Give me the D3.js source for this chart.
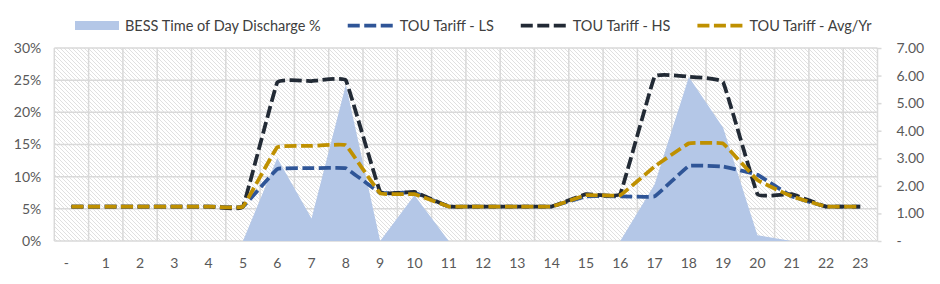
<!DOCTYPE html>
<html>
<meta charset="utf-8">
<head>
    <script src="https://d3js.org/d3.v7.min.js"></script>
</head>

<style>
  body { margin: 0; background: #fff; }
  svg text {
  font-family: Lato, "Open Sans", sans-serif;
  font-size: 14px;
  fill: #595959;
  }
  svg .grid line {
  stroke: #d9d9d9;
  stroke-width: 1.5;
  }
  svg .axis path { display: none; }
  svg .axis line { stroke: #d9d9d9; stroke-width: 1.5; }
  svg .legend text { fill: #404040; font-size: 14.5px; }
</style>

<body>
    <script>

        // hour of day categories and tick labels
        var hours = d3.range(0, 24);
        var hourLabels = ["-", "1", "2", "3", "4", "5", "6", "7", "8", "9", "10", "11",
                          "12", "13", "14", "15", "16", "17", "18", "19", "20", "21", "22", "23"];

        // BESS discharge share (left axis, %)
        var bess = [0, 0, 0, 0, 0, 0, 0.129, 0.035, 0.243, 0, 0.071, 0,
                    0, 0, 0, 0, 0, 0.088, 0.255, 0.176, 0.009, 0, 0, 0];

        // TOU tariffs (right axis)
        var tariffLS = [1.25, 1.25, 1.25, 1.25, 1.25, 1.25, 2.61, 2.64, 2.64, 1.75, 1.75, 1.25,
                        1.25, 1.25, 1.25, 1.62, 1.62, 1.62, 2.72, 2.70, 2.40, 1.62, 1.25, 1.25];
        var tariffHS = [1.25, 1.25, 1.25, 1.25, 1.25, 1.25, 5.75, 5.80, 5.83, 1.79, 1.78, 1.25,
                        1.25, 1.25, 1.25, 1.70, 1.71, 5.96, 5.96, 5.76, 1.70, 1.70, 1.25, 1.25];
        var tariffAvg = [1.25, 1.25, 1.25, 1.25, 1.25, 1.25, 3.40, 3.45, 3.47, 1.73, 1.70, 1.25,
                         1.25, 1.25, 1.25, 1.66, 1.66, 2.70, 3.54, 3.53, 2.21, 1.62, 1.25, 1.25];

        var leftTicks = [0, 0.05, 0.10, 0.15, 0.20, 0.25, 0.30];
        var rightTicks = [0, 1, 2, 3, 4, 5, 6, 7];

        var lines = [
            { name: "TOU Tariff - LS", values: tariffLS, color: "#2f5597" },
            { name: "TOU Tariff - HS", values: tariffHS, color: "#222a35" },
            { name: "TOU Tariff - Avg/Yr", values: tariffAvg, color: "#bf9000" }
        ];

        var width = 940,
            height = 284,
            plotL = 54.3, plotR = 877.5, plotT = 48, plotB = 241;

        var svg = d3.select("body").append("svg")
            .attr("width", width)
            .attr("height", height);

        var defs = svg.append("defs");
        var pat = defs.append("pattern")
            .attr("id", "hatch")
            .attr("patternUnits", "userSpaceOnUse")
            .attr("width", 4).attr("height", 4);
        pat.append("rect").attr("width", 4).attr("height", 4).attr("fill", "#ffffff");
        pat.append("path")
            .attr("d", "M-1,-1 L5,5 M-1,3 L1,5 M3,-1 L5,1")
            .attr("stroke", "#d8d8d8")
            .attr("stroke-width", 0.8);

        var x = d3.scaleBand().domain(hours).range([plotL, plotR]);
        var cx = function(i) { return x(i) + x.bandwidth() / 2; };
        var yL = d3.scaleLinear().domain([0, 0.30]).range([plotB, plotT]);
        var yR = d3.scaleLinear().domain([0, 7]).range([plotB, plotT]);

        // plot background
        svg.append("rect")
            .attr("x", plotL).attr("y", plotT)
            .attr("width", plotR - plotL).attr("height", plotB - plotT)
            .attr("fill", "url(#hatch)");

        // gridlines
        var grid = svg.append("g").attr("class", "grid");
        grid.selectAll("line.h")
            .data(leftTicks)
            .enter().append("line")
            .attr("class", "h")
            .attr("x1", plotL).attr("x2", plotR)
            .attr("y1", function(d) { return yL(d); })
            .attr("y2", function(d) { return yL(d); });
        grid.selectAll("line.v")
            .data(d3.range(0, 25))
            .enter().append("line")
            .attr("class", "v")
            .attr("x1", function(d) { return plotL + d * x.step(); })
            .attr("x2", function(d) { return plotL + d * x.step(); })
            .attr("y1", plotT).attr("y2", plotB);

        // area
        var area = d3.area()
            .x(function(d, i) { return cx(i); })
            .y0(yL(0))
            .y1(function(d) { return yL(d); });
        svg.append("path")
            .datum(bess)
            .attr("d", area)
            .attr("fill", "#b4c7e7");

        // tariff lines (lightly smoothed)
        var line = d3.line()
            .x(function(d, i) { return cx(i); })
            .y(function(d) { return yR(d); })
            .curve(d3.curveCardinal.tension(0.8));

        svg.selectAll("path.tariff")
            .data(lines)
            .enter().append("path")
            .attr("class", "tariff")
            .attr("d", function(d) { return line(d.values); })
            .attr("fill", "none")
            .attr("stroke", function(d) { return d.color; })
            .attr("stroke-width", 3.75)
            .attr("stroke-linejoin", "round")
            .attr("stroke-dasharray", "12,4.5");

        // axes
        svg.append("g")
            .attr("class", "axis")
            .attr("transform", "translate(" + plotL + ",0)")
            .call(d3.axisLeft(yL).tickValues(leftTicks).tickSize(0).tickPadding(13)
                .tickFormat(d3.format(".0%")));

        svg.append("g")
            .attr("class", "axis")
            .attr("transform", "translate(" + plotR + ",0)")
            .call(d3.axisRight(yR).tickValues(rightTicks).tickSize(4).tickPadding(15)
                .tickFormat(function(d) { return d === 0 ? "-" : d.toFixed(2); }));

        var xAxis = svg.append("g")
            .attr("class", "axis")
            .attr("transform", "translate(0," + plotB + ")")
            .call(d3.axisBottom(x).tickSize(0).tickPadding(17)
                .tickFormat(function(d) { return hourLabels[d]; }));
        // accounting format pads the dash label
        xAxis.selectAll(".tick text").filter(function(d) { return d === 0; }).attr("dx", -5);

        svg.selectAll(".axis text").style("font-size", "14px").attr("fill", "#595959");

        // legend
        var legend = svg.append("g").attr("class", "legend");
        var lx = 75, ly = 25.5;
        var items = [{ name: "BESS Time of Day Discharge %", area: true, color: "#b4c7e7" }].concat(lines);
        items.forEach(function(it) {
            if (it.area) {
                legend.append("rect")
                    .attr("x", lx).attr("y", ly - 4.5)
                    .attr("width", 44).attr("height", 9)
                    .attr("fill", it.color);
                lx += 50;
            } else {
                legend.append("line")
                    .attr("x1", lx).attr("x2", lx + 49)
                    .attr("y1", ly).attr("y2", ly)
                    .attr("stroke", it.color)
                    .attr("stroke-width", 3.75)
                    .attr("stroke-dasharray", "12,4.5");
                lx += 52;
            }
            var t = legend.append("text")
                .attr("x", lx).attr("y", ly + 5)
                .text(it.name);
            lx += t.node().getComputedTextLength() + 27;
        });
    </script>
</body>
</html>
